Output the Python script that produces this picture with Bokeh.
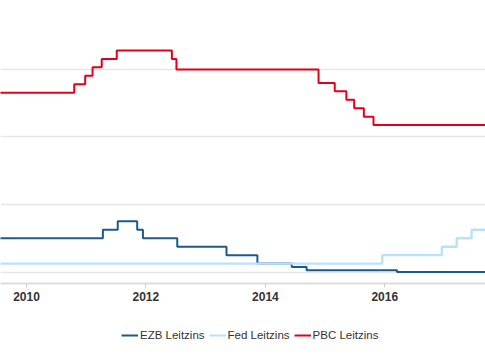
from datetime import datetime
from bokeh.plotting import figure
from bokeh.layouts import column
from bokeh.models import Range1d, FixedTicker, DatetimeTickFormatter, Legend, LegendItem
from bokeh.embed import file_html
from bokeh.resources import INLINE

# --- data (policy rate changes, step "after") ---
ezb_dates = ["2009-07-01", "2011-04-13", "2011-07-13", "2011-11-09", "2011-12-14",
             "2012-07-11", "2013-05-08", "2013-11-13", "2014-06-11", "2014-09-10",
             "2016-03-16", "2017-09-30"]
ezb_values = [1.00, 1.25, 1.50, 1.25, 1.00, 0.75, 0.50, 0.25, 0.15, 0.05, 0.00, 0.00]

fed_dates = ["2009-07-01", "2015-12-17", "2016-12-15", "2017-03-16", "2017-06-15", "2017-09-30"]
fed_values = [0.25, 0.50, 0.75, 1.00, 1.25, 1.25]

pbc_dates = ["2009-07-01", "2010-10-20", "2010-12-26", "2011-02-09", "2011-04-06",
             "2011-07-07", "2012-06-08", "2012-07-06", "2014-11-22", "2015-03-01",
             "2015-05-11", "2015-06-28", "2015-08-26", "2015-10-24", "2017-09-30"]
pbc_values = [5.31, 5.56, 5.81, 6.06, 6.31, 6.56, 6.31, 6.00, 5.60, 5.35,
              5.10, 4.85, 4.60, 4.35, 4.35]

series_names = ["EZB Leitzins", "Fed Leitzins", "PBC Leitzins"]
series_colors = ["#1a5a8c", "#b9e1fa", "#e2001a"]
series_widths = [2, 2.4, 2]

x_tick_years = [2010, 2012, 2014, 2016]
y_grid_values = [0, 2, 4, 6]


def to_dt(lst):
    return [datetime.strptime(s, "%Y-%m-%d") for s in lst]


x_start, x_end = datetime(2009, 7, 26), datetime(2017, 9, 8)

p = figure(width=485, height=310, x_axis_type="datetime",
           output_backend="svg", toolbar_location=None,
           x_range=Range1d(x_start, x_end),
           y_range=Range1d(-0.34, 8.04),
           min_border_left=0, min_border_right=0, min_border_top=0, min_border_bottom=27)
p.outline_line_color = None
p.background_fill_color = "white"
p.border_fill_color = "white"

p.yaxis.visible = False
p.yaxis.ticker = FixedTicker(ticks=y_grid_values)
p.xgrid.visible = False
p.ygrid.grid_line_color = "#e6e6e6"
p.ygrid.grid_line_width = 1.5

tick_ms = [(datetime(y, 1, 1) - datetime(1970, 1, 1)).total_seconds() * 1000 for y in x_tick_years]
ax = p.xaxis[0]
ax.ticker = FixedTicker(ticks=tick_ms)
ax.formatter = DatetimeTickFormatter(years="%Y", months="%Y", days="%Y", hours="%Y",
                                     minutes="%Y", seconds="%Y", milliseconds="%Y",
                                     microseconds="%Y", minsec="%Y", hourmin="%Y")
ax.axis_line_color = "#dddddd"
ax.axis_line_width = 2
ax.major_tick_line_color = "#cccccc"
ax.major_tick_in = 0
ax.major_tick_out = 4
ax.minor_tick_line_color = None
ax.major_label_standoff = 4
ax.major_label_text_font = "Liberation Sans"
ax.major_label_text_font_size = "12px"
ax.major_label_text_font_style = "bold"
ax.major_label_text_color = "#333333"

all_dates = [ezb_dates, fed_dates, pbc_dates]
all_values = [ezb_values, fed_values, pbc_values]
for d, v, c, w in zip(all_dates, all_values, series_colors, series_widths):
    p.step(x=to_dt(d), y=v, mode="after", line_color=c, line_width=w)

# legend strip below the chart (series drawn out of view, only legend shows)
lp = figure(width=485, height=50, x_axis_type="datetime",
            output_backend="svg", toolbar_location=None,
            x_range=Range1d(x_start, x_end), y_range=Range1d(100, 101),
            x_axis_location=None, y_axis_location=None,
            min_border_left=0, min_border_right=0, min_border_top=0, min_border_bottom=0)
lp.outline_line_color = None
lp.xgrid.visible = False
lp.ygrid.visible = False
lp.background_fill_color = "white"
lp.border_fill_color = "white"
leg_renderers = [lp.step(x=to_dt(d), y=v, mode="after", line_color=c, line_width=2)
                 for d, v, c in zip(all_dates, all_values, series_colors)]

legend = Legend(items=[LegendItem(label=n, renderers=[r]) for n, r in zip(series_names, leg_renderers)],
                orientation="horizontal", location=(121, 15),
                glyph_width=17, label_standoff=2, spacing=4, padding=0, margin=0,
                label_height=20, glyph_height=20,
                label_text_font="Liberation Sans", label_text_font_size="11.5px",
                label_text_color="#333333", border_line_color=None,
                background_fill_alpha=0)
lp.add_layout(legend, "center")

layout = column(p, lp, spacing=0)
open("out.html", "w").write(file_html(layout, INLINE))
